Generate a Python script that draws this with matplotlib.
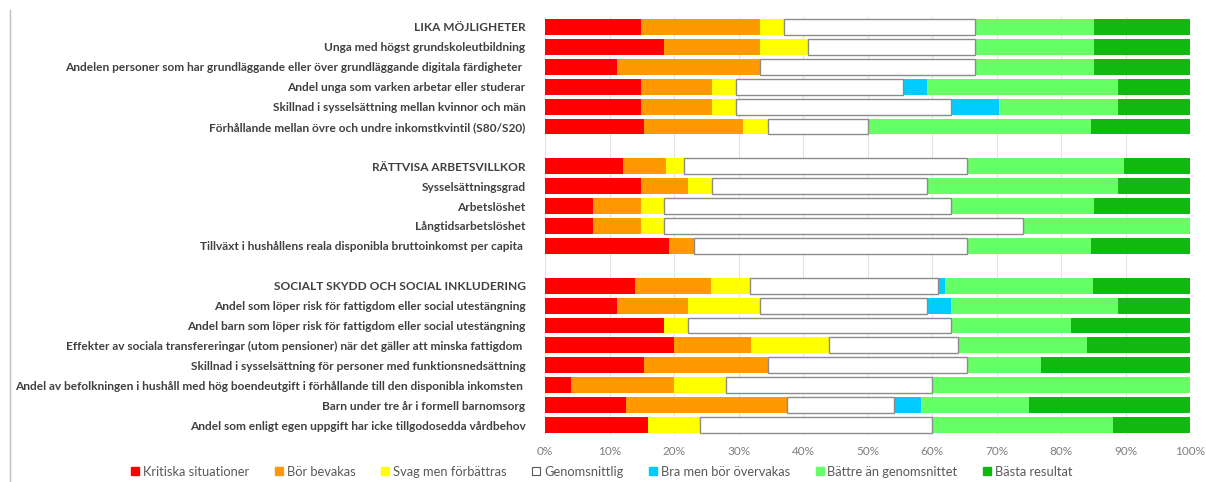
import numpy as np
import matplotlib.pyplot as plt
from matplotlib.lines import Line2D

# =========================================================
# DATA (number of countries per category, each row = one indicator)
# =========================================================
row_labels = [
    'LIKA MÖJLIGHETER',
    'Unga med högst grundskoleutbildning',
    'Andelen personer som har grundläggande eller över grundläggande digitala färdigheter ',
    'Andel unga som varken arbetar eller studerar',
    'Skillnad i sysselsättning mellan kvinnor och män',
    'Förhållande mellan övre och undre inkomstkvintil (S80/S20)',
    '',
    'RÄTTVISA ARBETSVILLKOR',
    'Sysselsättningsgrad',
    'Arbetslöshet',
    'Långtidsarbetslöshet',
    'Tillväxt i hushållens reala disponibla bruttoinkomst per capita ',
    '',
    'SOCIALT SKYDD OCH SOCIAL INKLUDERING',
    'Andel som löper risk för fattigdom eller social utestängning',
    'Andel barn som löper risk för fattigdom eller social utestängning',
    'Effekter av sociala transfereringar (utom pensioner) när det gäller att minska fattigdom ',
    'Skillnad i sysselsättning för personer med funktionsnedsättning',
    'Andel av befolkningen i hushåll med hög boendeutgift i förhållande till den disponibla inkomsten ',
    'Barn under tre år i formell barnomsorg',
    'Andel som enligt egen uppgift har icke tillgodosedda vårdbehov',
]

kritiska = [4, 5, 3, 4, 4, 4, 0, 13, 4, 2, 2, 5, 0, 25, 3, 5, 5, 4, 1, 3, 4]
bor_bevakas = [5, 4, 6, 3, 3, 4, 0, 7, 2, 2, 2, 1, 0, 21, 3, 0, 3, 5, 4, 6, 0]
svag = [1, 2, 0, 1, 1, 1, 0, 3, 1, 1, 1, 0, 0, 11, 3, 1, 3, 0, 2, 0, 2]
genomsnittlig = [8, 7, 9, 7, 9, 4, 0, 47, 9, 12, 15, 11, 0, 52, 7, 11, 5, 8, 8, 4, 9]
bra = [0, 0, 0, 1, 2, 0, 0, 0, 0, 0, 0, 0, 0, 2, 1, 0, 0, 0, 0, 1, 0]
battre = [5, 5, 5, 8, 5, 9, 0, 26, 8, 6, 7, 5, 0, 41, 7, 5, 5, 3, 10, 4, 7]
basta = [4, 4, 4, 3, 3, 4, 0, 11, 3, 4, 0, 4, 0, 27, 3, 5, 4, 6, 0, 6, 3]

series_names = ['Kritiska situationer', 'Bör bevakas', 'Svag men förbättras',
                'Genomsnittlig', 'Bra men bör övervakas',
                'Bättre än genomsnittet', 'Bästa resultat']
series_colors = ['#FF0000', '#FF9900', '#FFFF00', '#FFFFFF',
                 '#00CCFF', '#66FF66', '#10B810']

# =========================================================
# PLOT
# =========================================================
plt.rcParams['font.family'] = ['Lato', 'DejaVu Sans']

counts = np.array([kritiska, bor_bevakas, svag, genomsnittlig, bra, battre, basta],
                  dtype=float)
totals = counts.sum(axis=0)
shares = np.divide(counts, totals, out=np.zeros_like(counts), where=totals > 0) * 100

fig = plt.figure(figsize=(12.06, 4.82), dpi=100)
ax = fig.add_axes([545 / 1206, (482 - 435) / 482, 645 / 1206, 418 / 482])

y = np.arange(len(row_labels))
left = np.zeros(len(row_labels))
for vals, color in zip(shares, series_colors):
    keep = vals > 0  # skip empty segments (and the blank spacer rows)
    if color == '#FFFFFF':
        ax.barh(y[keep], vals[keep], left=left[keep], height=0.8, color=color,
                edgecolor='#8C8C8C', linewidth=1.0, zorder=3)
    else:
        ax.barh(y[keep], vals[keep], left=left[keep], height=0.8, color=color,
                edgecolor='none', zorder=2)
    left += vals

ax.set_xlim(0, 100)
ax.set_ylim(len(row_labels) - 0.5, -0.5)
ax.set_xticks(np.arange(0, 101, 10))
ax.set_xticklabels([f'{v}%' for v in range(0, 101, 10)])
ax.set_yticks(y)
ax.set_yticklabels(row_labels)
ax.tick_params(axis='x', length=0, labelsize=8.5, labelcolor='#7F7F7F', pad=8)
ax.tick_params(axis='y', length=0, labelsize=8.6, labelcolor='#404040', pad=14)
for lab in ax.get_yticklabels():
    lab.set_fontweight('bold')

ax.grid(axis='x', color='#E3E3E3', linewidth=0.8, zorder=0)
ax.set_axisbelow(True)
for s in ax.spines.values():
    s.set_visible(False)

# Legend
handles = []
for name, color in zip(series_names, series_colors):
    if color == '#FFFFFF':
        handles.append(Line2D([], [], marker='s', linestyle='none', markersize=5.5,
                              markerfacecolor='white', markeredgecolor='#595959',
                              markeredgewidth=0.8, label=name))
    else:
        handles.append(Line2D([], [], marker='s', linestyle='none', markersize=5.5,
                              markerfacecolor=color, markeredgecolor=color, label=name))
leg = fig.legend(handles=handles, loc='center', bbox_to_anchor=(0.498, 1 - 472 / 482),
                 ncol=7, frameon=False, fontsize=9.3, handletextpad=0.1,
                 columnspacing=1.8, handlelength=1.0)
for t in leg.get_texts():
    t.set_color('#595959')

# Chart area border (left edge visible)
fig.add_artist(Line2D([10 / 1206, 10 / 1206], [0, 1 - 10 / 482],
                      color='#BFBFBF', linewidth=1.0))

fig.savefig('out.png', dpi=100)
